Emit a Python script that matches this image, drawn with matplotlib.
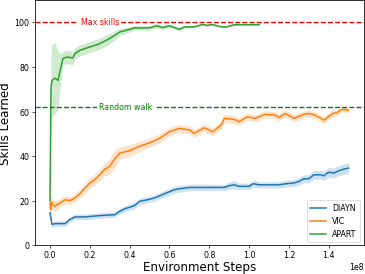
import numpy as np
import matplotlib
matplotlib.use("Agg")
import matplotlib.pyplot as plt

# steps are in units of 1e8
diayn_x = [0, 0.01, 0.025, 0.075, 0.1, 0.125, 0.175, 0.25, 0.325, 0.35, 0.375, 0.425, 0.45, 0.49,
           0.525, 0.575, 0.625, 0.65, 0.7, 0.75, 0.875, 0.9, 0.925, 0.95, 1.0, 1.02, 1.05, 1.15,
           1.185, 1.225, 1.25, 1.275, 1.3, 1.325, 1.36, 1.375, 1.4, 1.425, 1.45, 1.475, 1.5]
diayn_y = [14.6, 9.4, 9.8, 9.8, 11.6, 12.8, 12.8, 13.4, 13.8, 15.3, 16.4, 17.9, 19.8, 20.5,
           21.3, 23.2, 25.0, 25.4, 26.0, 26.0, 26.0, 26.8, 27.2, 26.5, 26.5, 27.7, 27.2, 27.2,
           27.7, 28.0, 28.7, 29.9, 29.9, 31.7, 31.7, 31.2, 32.9, 32.4, 33.5, 34.2, 34.7]
diayn_s = [1.5, 1.2, 1.2, 1.2, 1.2, 1.2, 1.2, 1.2, 1.2, 1.3, 1.3, 1.4, 1.4, 1.4,
           1.4, 1.5, 1.5, 1.5, 1.5, 1.5, 1.4, 1.6, 1.8, 1.5, 1.4, 1.6, 1.4, 1.4,
           1.5, 1.5, 1.7, 1.8, 1.8, 2.0, 2.0, 2.0, 2.2, 2.2, 2.3, 2.3, 2.4]

vic_x = [0, 0.003, 0.008, 0.015, 0.025, 0.035, 0.05, 0.075, 0.1, 0.125, 0.15, 0.175, 0.2, 0.225,
         0.25, 0.275, 0.3, 0.315, 0.35, 0.4, 0.45, 0.5, 0.55, 0.575, 0.6, 0.65, 0.7, 0.725,
         0.775, 0.817, 0.86, 0.875, 0.925, 0.95, 0.99, 1.03, 1.08, 1.13, 1.15, 1.18, 1.225,
         1.275, 1.3, 1.33, 1.375, 1.42, 1.44, 1.465, 1.5]
vic_y = [19.0, 16.0, 19.5, 18.3, 17.5, 18.3, 19.0, 20.5, 20.1, 21.3, 23.2, 25.7, 28.0, 29.5,
         31.7, 34.2, 35.4, 37.6, 41.4, 42.5, 44.5, 46.0, 48.0, 49.5, 51.0, 52.5, 51.8, 50.3,
         52.8, 51.0, 54.0, 57.0, 56.5, 55.5, 57.7, 57.0, 58.8, 58.5, 57.4, 59.2, 57.0,
         58.8, 59.2, 58.5, 56.2, 59.2, 59.5, 61.0, 60.7]
vic_s = [2.5, 3.0, 3.0, 2.5, 2.5, 2.0, 2.0, 1.8, 1.8, 1.8, 2.0, 2.2, 2.5, 2.5,
         2.5, 3.0, 3.5, 4.0, 3.0, 2.5, 2.2, 2.0, 2.0, 2.0, 2.0, 1.8, 1.8, 1.8,
         1.8, 1.8, 1.8, 1.8, 1.8, 1.8, 1.6, 1.6, 1.6, 1.6, 1.6, 1.6, 1.6,
         1.6, 1.6, 1.6, 1.6, 1.6, 1.5, 1.2, 1.0]

apart_x = [0, 0.005, 0.01, 0.025, 0.04, 0.055, 0.065, 0.085, 0.115, 0.125, 0.15, 0.2, 0.225,
           0.25, 0.29, 0.325, 0.35, 0.4, 0.425, 0.45, 0.5, 0.535, 0.565, 0.6, 0.65, 0.675,
           0.725, 0.765, 0.79, 0.815, 0.85, 0.885, 0.925, 1.05]
apart_y = [20.0, 71.0, 74.0, 75.0, 74.0, 80.0, 83.8, 84.5, 84.1, 86.0, 87.5, 89.0, 89.7,
           90.5, 92.3, 94.2, 95.7, 96.9, 97.6, 97.5, 97.6, 98.5, 97.7, 98.5, 96.9, 98.0,
           98.0, 99.1, 98.7, 99.1, 98.2, 97.9, 99.0, 99.0]
apart_s = [1.0, 16.0, 16.0, 16.0, 13.0, 6.0, 3.0, 3.0, 3.0, 2.5, 2.5, 2.5, 2.5,
           2.5, 2.5, 2.0, 1.5, 1.2, 1.0, 1.0, 1.0, 1.0, 1.0, 0.8, 0.8, 0.6,
           0.5, 0.4, 0.4, 0.3, 0.3, 0.3, 0.3, 0.3]

series = [("DIAYN", diayn_x, diayn_y, diayn_s, "tab:blue"),
          ("VIC", vic_x, vic_y, vic_s, "tab:orange"),
          ("APART", apart_x, apart_y, apart_s, "tab:green")]

plt.rcParams["lines.linewidth"] = 1.9
plt.rcParams["axes.linewidth"] = 1.0

fig = plt.figure(figsize=(365.4 / 57, 274.4 / 57), dpi=57)
ax = fig.add_axes([0.096, 0.104, 0.899, 0.894])

for name, x, y, s, c in series:
    x = np.array(x) * 1e8
    y = np.array(y)
    s = np.array(s)
    ax.plot(x, y, color=c, label=name)
    ax.fill_between(x, y - s, y + s, color=c, alpha=0.22, linewidth=0)

ax.axhline(100, color="r", linestyle="--", linewidth=1.7)
ax.axhline(62, color="g", linestyle="--", linewidth=1.7)
ax.text(0.25e8, 100, "Max skills", color="r", ha="center", va="center",
        bbox=dict(facecolor="white", edgecolor="none", pad=3))
ax.text(0.38e8, 62, "Random walk", color="g", ha="center", va="center",
        bbox=dict(facecolor="white", edgecolor="none", pad=3))

ax.set_ylim(0, 110)
ax.set_xlabel("Environment Steps", fontsize=15, labelpad=1)
ax.set_ylabel("Skills Learned", fontsize=15, labelpad=3)
ax.legend(loc="lower right")

fig.savefig("out.png", dpi=57)
